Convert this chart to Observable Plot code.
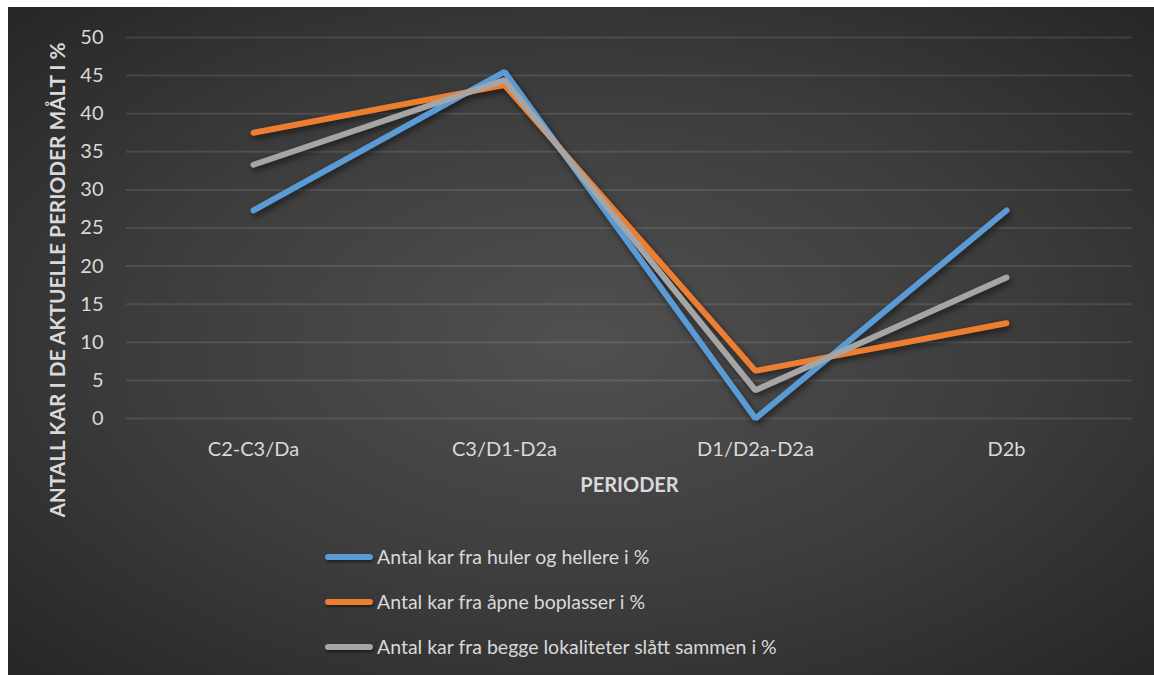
<!DOCTYPE html>
<html><head><meta charset="utf-8">
<script src="https://cdn.jsdelivr.net/npm/d3@7"></script>
<script src="https://cdn.jsdelivr.net/npm/@observablehq/plot@0.6"></script>
<style>
body{margin:0;background:#fff;width:1154px;height:675px;overflow:hidden;font-family:Lato,"Open Sans",sans-serif}
#panel{position:absolute;left:8px;top:7px;width:1146px;height:668px;
  background:radial-gradient(ellipse farthest-corner at 50% 50%, #505050 0%, #3c3c3c 55%, #262626 100%)}
#chart{position:absolute;left:0;top:0}
#legend{position:absolute;left:317px;top:527px}
.row{display:flex;align-items:center;height:45px}
.sw{width:48px;height:6px;border-radius:3px;margin-right:4px;box-shadow:1px 2px 3px rgba(0,0,0,0.45)}
.lab{color:#d9d9d9;font-size:19.5px;white-space:nowrap}
</style>
</head><body>
<div id="panel"><div id="chart"></div><div id="legend"></div></div>
<script>
const categories = ["C2-C3/Da","C3/D1-D2a","D1/D2a-D2a","D2b"];
const seriesNames = ["Antal kar fra huler og hellere i %","Antal kar fra åpne boplasser i %","Antal kar fra begge lokaliteter slått sammen i %"];
const huler = [27.3,45.5,0,27.3];
const apne = [37.5,43.75,6.25,12.5];
const begge = [33.3,44.4,3.7,18.5];
const colors = ["#5B9BD5","#ED7D31","#A5A5A5"];
const yTicks = [0,5,10,15,20,25,30,35,40,45,50];
const yTitle = "ANTALL KAR I DE AKTUELLE PERIODER MÅLT I %";
const xTitle = "PERIODER";

const allSeries = [huler, apne, begge];
const data = [];
allSeries.forEach((vals, i) => vals.forEach((v, j) => data.push({series: seriesNames[i], cat: categories[j], value: v})));

const plot = Plot.plot({
  width: 1146, height: 510,
  marginLeft: 118, marginRight: 22, marginTop: 30, marginBottom: 99,
  x: {type: "point", domain: categories, padding: 0.5},
  y: {domain: [0, 50]},
  color: {domain: seriesNames, range: colors},
  style: {background: "transparent", fontFamily: "Lato, 'Open Sans', sans-serif", fontSize: "20px", color: "#d9d9d9"},
  marks: [
    Plot.gridY(yTicks, {stroke: "#ffffff", strokeOpacity: 0.1, strokeWidth: 2}),
    Plot.axisY(yTicks, {tickSize: 0, tickPadding: 23, label: null, fontSize: 20}),
    Plot.axisX({tickSize: 0, tickPadding: 23, label: null, fontSize: 20}),
    Plot.line(data, {x: "cat", y: "value", z: "series", stroke: "series", strokeWidth: 6,
      strokeLinecap: "round", strokeLinejoin: "miter"}),
    Plot.text([yTitle], {text: d => d, frameAnchor: "left", textAnchor: "middle", lineAnchor: "middle",
      rotate: -90, dx: -68, dy: 52, fontWeight: "bold", fontSize: 20.8, fill: "#d9d9d9"}),
    Plot.text([xTitle], {text: d => d, frameAnchor: "bottom", textAnchor: "middle", lineAnchor: "middle",
      dy: 67, fontWeight: "bold", fontSize: 20, fill: "#d9d9d9"})
  ]
});
d3.select(plot).selectAll('g[aria-label="line"]').style("filter", "drop-shadow(2px 3px 3px rgba(0,0,0,0.55))");
document.getElementById("chart").appendChild(plot);

const legend = d3.select("#legend");
seriesNames.forEach((s, i) => {
  const r = legend.append("div").attr("class", "row");
  r.append("div").attr("class", "sw").style("background", colors[i]);
  r.append("div").attr("class", "lab").text(s);
});
</script>
</body></html>
